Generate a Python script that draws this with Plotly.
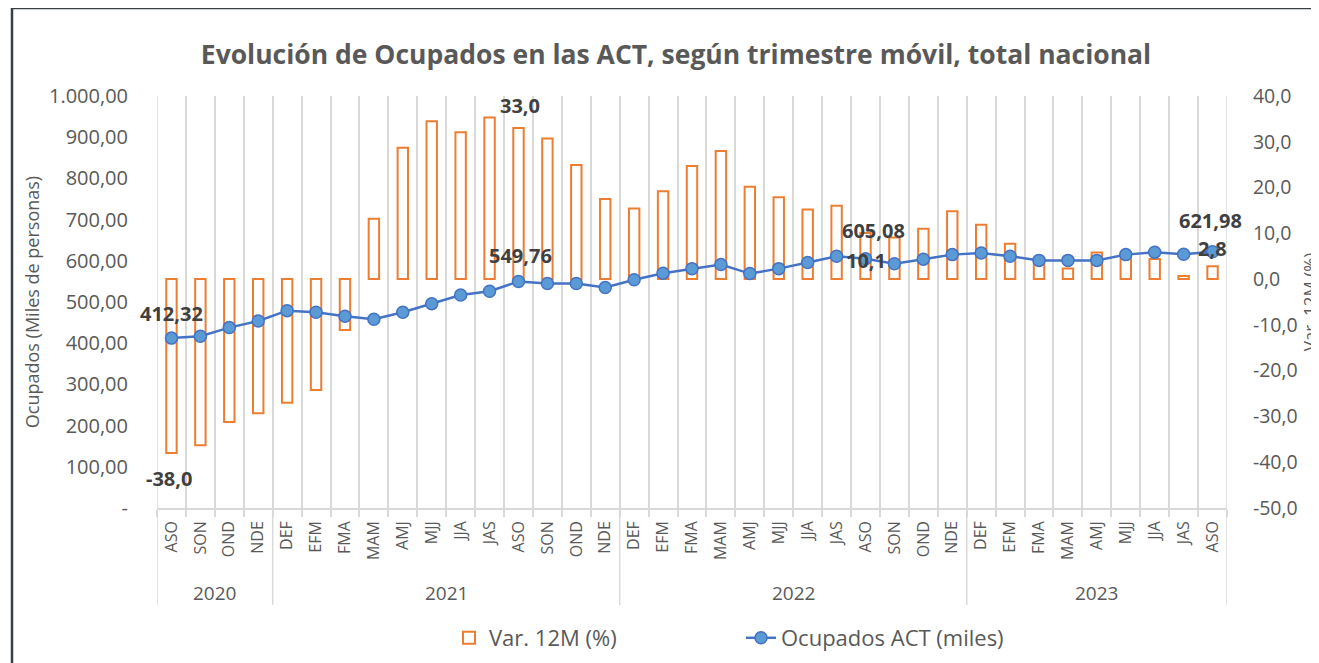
import plotly.graph_objects as go

# ---------------- data ----------------
years = ["2020"] * 4 + ["2021"] * 12 + ["2022"] * 12 + ["2023"] * 9
months = ["ASO", "SON", "OND", "NDE",
          "DEF", "EFM", "FMA", "MAM", "AMJ", "MJJ", "JJA", "JAS", "ASO", "SON", "OND", "NDE",
          "DEF", "EFM", "FMA", "MAM", "AMJ", "MJJ", "JJA", "JAS", "ASO", "SON", "OND", "NDE",
          "DEF", "EFM", "FMA", "MAM", "AMJ", "MJJ", "JJA", "JAS", "ASO"]

ocupados = [412.32, 416.8, 437.9, 454.0,
            479.0, 475.0, 465.4, 458.0, 475.0, 496.0, 517.0, 526.0, 549.76, 545.0, 545.0, 535.0,
            554.0, 570.0, 581.0, 591.0, 569.0, 581.0, 596.0, 611.0, 605.08, 593.0, 604.0, 615.0,
            619.0, 611.0, 601.0, 601.0, 601.0, 615.0, 621.0, 616.0, 621.98]

var12m = [-38.0, -36.3, -31.2, -29.3,
          -27.0, -24.2, -11.1, 13.2, 28.7, 34.5, 32.1, 35.3, 33.0, 30.7, 24.9, 17.5,
          15.4, 19.2, 24.7, 28.0, 20.2, 17.9, 15.2, 16.0, 10.1, 9.1, 11.0, 14.8,
          11.9, 7.7, 4.0, 2.3, 5.8, 5.3, 4.4, 0.7, 2.8]

left_ticks = [0, 100, 200, 300, 400, 500, 600, 700, 800, 900, 1000]
right_ticks = [-50, -40, -30, -20, -10, 0, 10, 20, 30, 40]
label_month = "ASO"


def fmt_es(v, d):
    s = f"{v:,.{d}f}"
    return s.replace(",", "X").replace(".", ",").replace("X", ".")


left_text = ["-" if v == 0 else fmt_es(v, 2) for v in left_ticks]
right_text = [fmt_es(v, 1) for v in right_ticks]
pos = list(range(len(months)))

FONT = "Open Sans, Lato, sans-serif"
GREY = "#595959"
GRID = "#d9d9d9"

# layout geometry (page pixels; the page body adds an 8px offset)
W, H = 1319, 663
OFF = 8
PL, PR, PT, PB = 157, 1227, 96, 508
ML, MT = PL - OFF, PT - OFF
MR, MB = W - (PR - OFF), H - (PB - OFF)


def px_x(px):
    return (px - PL) / (PR - PL)


def px_y(py):
    return (PB - py) / (PB - PT)


fig = go.Figure()
fig.add_trace(go.Bar(
    x=pos, y=var12m, yaxis="y", name="Var. 12M (%)", legend="legend",
    marker=dict(color="white", line=dict(color="#ED7D31", width=2)),
    width=0.36,
))
fig.add_trace(go.Scatter(
    x=pos, y=ocupados, yaxis="y2", name="Ocupados ACT (miles)", legend="legend2",
    mode="lines+markers",
    line=dict(color="#4472C4", width=2.5),
    marker=dict(size=12, color="#5B9BD5", line=dict(color="#4472C4", width=1.5)),
))

# data labels (pixel offsets tuned to the reference placement)
line_shift = [(0, 25), (2, 26), (8, 28), (-2, 31)]
bar_shift = [(-2, -25), (2, 23), (0, -28), (0, 18)]
label_idx = [i for i, m in enumerate(months) if m == label_month]
lab_font = dict(size=20, color="#404040", family=FONT, weight="bold")
ann = []
for k, i in enumerate(label_idx):
    ann.append(dict(x=pos[i], y=ocupados[i], xref="x", yref="y2", text=fmt_es(ocupados[i], 2),
                    showarrow=False, xshift=line_shift[k][0], yshift=line_shift[k][1], font=lab_font))
    ann.append(dict(x=pos[i], y=var12m[i], xref="x", yref="y", text=fmt_es(var12m[i], 1),
                    showarrow=False, xshift=bar_shift[k][0], yshift=bar_shift[k][1], font=lab_font))

# year group labels and dividers
groups = []
for i, yv in enumerate(years):
    if not groups or groups[-1][0] != yv:
        groups.append([yv, i, i])
    else:
        groups[-1][2] = i

shapes = []
for g in groups:
    ann.append(dict(x=(pos[g[1]] + pos[g[2]]) / 2, y=px_y(593), xref="x", yref="paper",
                    text=g[0], showarrow=False, yanchor="middle",
                    font=dict(size=19, color=GREY, family=FONT)))
bounds = [pos[g[1]] - 0.5 for g in groups] + [pos[groups[-1][2]] + 0.5]
for j, b in enumerate(bounds):
    top = 1 if j in (0, len(bounds) - 1) else 0
    shapes.append(dict(type="line", xref="x", yref="paper", x0=b, x1=b, y0=px_y(605), y1=top,
                       line=dict(color=GRID, width=1.5), layer="below"))

# outer chart frame
shapes.append(dict(type="rect", xref="paper", yref="paper", x0=px_x(12), x1=px_x(1400),
                   y0=px_y(800), y1=px_y(8), line=dict(color="#3a3f44", width=2.5),
                   fillcolor="rgba(0,0,0,0)"))

fig.update_layout(
    template="none",
    width=W, height=H,
    margin=dict(l=ML, r=MR, t=MT, b=MB, pad=0),
    paper_bgcolor="white", plot_bgcolor="white",
    font=dict(family=FONT, color=GREY, size=17),
    title=dict(text="<b>Evolución de Ocupados en las ACT, según trimestre móvil, total nacional</b>",
               x=(676 - OFF) / W, xanchor="center", y=1 - (55 - OFF) / H, yanchor="middle",
               yref="container", font=dict(size=26.5, color=GREY, family=FONT)),
    showlegend=True,
    legend=dict(orientation="h", x=px_x(449), xanchor="left", y=px_y(638), yanchor="middle",
                font=dict(size=22, color=GREY, family=FONT), bgcolor="rgba(0,0,0,0)"),
    legend2=dict(orientation="h", x=px_x(741), xanchor="left", y=px_y(638), yanchor="middle",
                 font=dict(size=22, color=GREY, family=FONT), bgcolor="rgba(0,0,0,0)"),
    annotations=ann,
    shapes=shapes,
    xaxis=dict(
        range=[-0.5, len(months) - 0.5], tickmode="array", tickvals=pos, ticktext=months,
        tickangle=-90, tickfont=dict(size=16, color=GREY, family=FONT),
        showgrid=False, zeroline=False, automargin=False,
        ticks="outside", ticklen=5, tickcolor="rgba(0,0,0,0)",
        minor=dict(tickmode="linear", tick0=-0.5, dtick=1, showgrid=True, gridcolor=GRID,
                   gridwidth=1.5, ticks="outside", ticklen=7, tickcolor=GRID, tickwidth=1.5),
        showline=True, linecolor=GRID, linewidth=1.5,
    ),
    yaxis=dict(
        side="right", range=[-50, 40], tickvals=right_ticks, ticktext=right_text,
        showgrid=False, zeroline=False, showline=False, automargin=False,
        ticks="outside", ticklen=21, tickcolor="rgba(0,0,0,0)",
        tickfont=dict(size=19.5, color=GREY, family=FONT),
        title=dict(text="Var. 12M (%)", standoff=2, font=dict(size=17, color=GREY, family=FONT)),
    ),
    yaxis2=dict(
        side="left", overlaying="y", range=[0, 1000], tickvals=left_ticks, ticktext=left_text,
        showgrid=False, zeroline=False, showline=False, automargin=False,
        ticks="outside", ticklen=24, tickcolor="rgba(0,0,0,0)",
        tickfont=dict(size=20, color=GREY, family=FONT),
        title=dict(text="Ocupados (Miles de personas)", standoff=4,
                   font=dict(size=18, color=GREY, family=FONT)),
    ),
)

fig.write_html("out.html")
